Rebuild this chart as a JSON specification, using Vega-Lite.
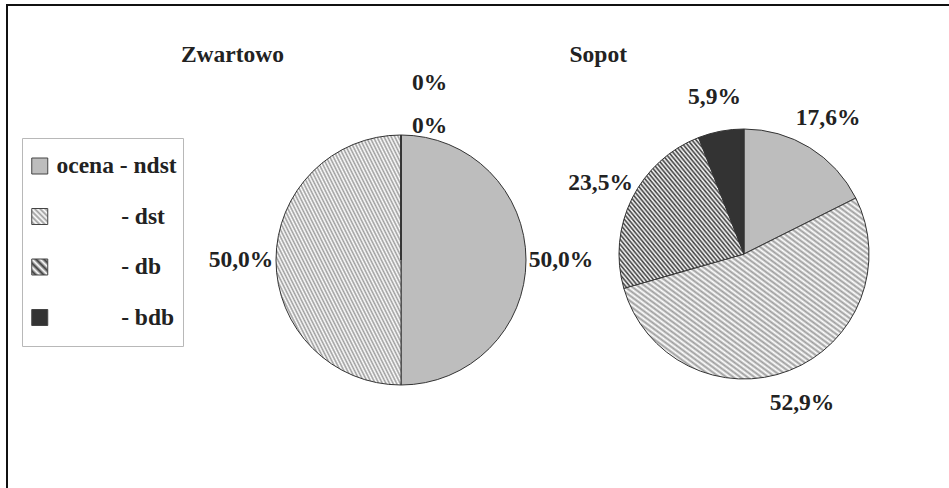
{
  "$schema": "https://vega.github.io/schema/vega-lite/v6.json",
  "width": 950,
  "height": 504,
  "autosize": {"type": "none"},
  "padding": {"left": 7, "top": 5, "right": 0, "bottom": 0},
  "background": "white",
  "params": [
    {"name": "hd", "value": "#3a3a3a"},
    {"name": "hl", "value": "#ffffff"},
    {"name": "cd", "value": "#9c9c9c"},
    {"name": "cl", "value": "#ffffff"}
  ],
  "config": {
    "view": {"stroke": "#111111", "strokeWidth": 2},
    "font": "Liberation Serif",
    "text": {"font": "Liberation Serif", "fontWeight": "bold", "fontSize": 23.5, "fill": "#222222"}
  },
  "datasets": {
    "grades": [
      {"site": "Zwartowo", "grade": "ndst", "order": 1, "value": 50.0},
      {"site": "Zwartowo", "grade": "dst", "order": 2, "value": 50.0},
      {"site": "Zwartowo", "grade": "db", "order": 3, "value": 0},
      {"site": "Zwartowo", "grade": "bdb", "order": 4, "value": 0},
      {"site": "Sopot", "grade": "ndst", "order": 1, "value": 17.6},
      {"site": "Sopot", "grade": "dst", "order": 2, "value": 52.9},
      {"site": "Sopot", "grade": "db", "order": 3, "value": 23.5},
      {"site": "Sopot", "grade": "bdb", "order": 4, "value": 5.9}
    ],
    "sites": [
      {"site": "Zwartowo"},
      {"site": "Sopot"}
    ]
  },
  "transform": [
    {"stack": "value", "groupby": ["site"], "sort": [{"field": "order", "order": "ascending"}], "offset": "normalize", "as": ["t0", "t1"]},
    {"calculate": "(datum.t0 + datum.t1) / 2", "as": "tm"},
    {"calculate": "datum.value == 0 ? '0%' : replace(format(datum.value, '.1f'), '.', ',') + '%'", "as": "lab"}
  ],
  "data": {"name": "grades"},
  "layer": [
    {
      "mark": {"type": "arc", "outerRadius": 125, "stroke": "#333333", "strokeWidth": 1},
      "encoding": {
        "theta": {"field": "t0", "type": "quantitative", "scale": {"domain": [0, 1], "nice": false}},
        "theta2": {"field": "t1"},
        "x": {"field": "site", "type": "nominal", "scale": {"type": "point", "padding": 0, "domain": ["Zwartowo", "Sopot"], "range": [394, 737]}, "axis": null},
        "y": {"field": "site", "type": "nominal", "scale": {"type": "point", "padding": 0, "domain": ["Zwartowo", "Sopot"], "range": [255, 249]}, "axis": null},
        "fill": {
          "field": "grade",
          "type": "nominal",
          "scale": {
            "domain": ["ndst", "dst", "db", "bdb"],
            "range": [
              "#bdbdbd",
              {"expr": "{gradient:'linear',x1:0,y1:1,x2:1,y2:0,stops:[{offset:0/140,color:cd},{offset:1/140,color:cl},{offset:2/140,color:cd},{offset:3/140,color:cl},{offset:4/140,color:cd},{offset:5/140,color:cl},{offset:6/140,color:cd},{offset:7/140,color:cl},{offset:8/140,color:cd},{offset:9/140,color:cl},{offset:10/140,color:cd},{offset:11/140,color:cl},{offset:12/140,color:cd},{offset:13/140,color:cl},{offset:14/140,color:cd},{offset:15/140,color:cl},{offset:16/140,color:cd},{offset:17/140,color:cl},{offset:18/140,color:cd},{offset:19/140,color:cl},{offset:20/140,color:cd},{offset:21/140,color:cl},{offset:22/140,color:cd},{offset:23/140,color:cl},{offset:24/140,color:cd},{offset:25/140,color:cl},{offset:26/140,color:cd},{offset:27/140,color:cl},{offset:28/140,color:cd},{offset:29/140,color:cl},{offset:30/140,color:cd},{offset:31/140,color:cl},{offset:32/140,color:cd},{offset:33/140,color:cl},{offset:34/140,color:cd},{offset:35/140,color:cl},{offset:36/140,color:cd},{offset:37/140,color:cl},{offset:38/140,color:cd},{offset:39/140,color:cl},{offset:40/140,color:cd},{offset:41/140,color:cl},{offset:42/140,color:cd},{offset:43/140,color:cl},{offset:44/140,color:cd},{offset:45/140,color:cl},{offset:46/140,color:cd},{offset:47/140,color:cl},{offset:48/140,color:cd},{offset:49/140,color:cl},{offset:50/140,color:cd},{offset:51/140,color:cl},{offset:52/140,color:cd},{offset:53/140,color:cl},{offset:54/140,color:cd},{offset:55/140,color:cl},{offset:56/140,color:cd},{offset:57/140,color:cl},{offset:58/140,color:cd},{offset:59/140,color:cl},{offset:60/140,color:cd},{offset:61/140,color:cl},{offset:62/140,color:cd},{offset:63/140,color:cl},{offset:64/140,color:cd},{offset:65/140,color:cl},{offset:66/140,color:cd},{offset:67/140,color:cl},{offset:68/140,color:cd},{offset:69/140,color:cl},{offset:70/140,color:cd},{offset:71/140,color:cl},{offset:72/140,color:cd},{offset:73/140,color:cl},{offset:74/140,color:cd},{offset:75/140,color:cl},{offset:76/140,color:cd},{offset:77/140,color:cl},{offset:78/140,color:cd},{offset:79/140,color:cl},{offset:80/140,color:cd},{offset:81/140,color:cl},{offset:82/140,color:cd},{offset:83/140,color:cl},{offset:84/140,color:cd},{offset:85/140,color:cl},{offset:86/140,color:cd},{offset:87/140,color:cl},{offset:88/140,color:cd},{offset:89/140,color:cl},{offset:90/140,color:cd},{offset:91/140,color:cl},{offset:92/140,color:cd},{offset:93/140,color:cl},{offset:94/140,color:cd},{offset:95/140,color:cl},{offset:96/140,color:cd},{offset:97/140,color:cl},{offset:98/140,color:cd},{offset:99/140,color:cl},{offset:100/140,color:cd},{offset:101/140,color:cl},{offset:102/140,color:cd},{offset:103/140,color:cl},{offset:104/140,color:cd},{offset:105/140,color:cl},{offset:106/140,color:cd},{offset:107/140,color:cl},{offset:108/140,color:cd},{offset:109/140,color:cl},{offset:110/140,color:cd},{offset:111/140,color:cl},{offset:112/140,color:cd},{offset:113/140,color:cl},{offset:114/140,color:cd},{offset:115/140,color:cl},{offset:116/140,color:cd},{offset:117/140,color:cl},{offset:118/140,color:cd},{offset:119/140,color:cl},{offset:120/140,color:cd},{offset:121/140,color:cl},{offset:122/140,color:cd},{offset:123/140,color:cl},{offset:124/140,color:cd},{offset:125/140,color:cl},{offset:126/140,color:cd},{offset:127/140,color:cl},{offset:128/140,color:cd},{offset:129/140,color:cl},{offset:130/140,color:cd},{offset:131/140,color:cl},{offset:132/140,color:cd},{offset:133/140,color:cl},{offset:134/140,color:cd},{offset:135/140,color:cl},{offset:136/140,color:cd},{offset:137/140,color:cl},{offset:138/140,color:cd},{offset:139/140,color:cl},{offset:140/140,color:cd}]}"},
              {"expr": "{gradient:'linear',x1:0,y1:1,x2:1,y2:0,stops:[{offset:0/120,color:hd},{offset:1/120,color:hl},{offset:2/120,color:hd},{offset:3/120,color:hl},{offset:4/120,color:hd},{offset:5/120,color:hl},{offset:6/120,color:hd},{offset:7/120,color:hl},{offset:8/120,color:hd},{offset:9/120,color:hl},{offset:10/120,color:hd},{offset:11/120,color:hl},{offset:12/120,color:hd},{offset:13/120,color:hl},{offset:14/120,color:hd},{offset:15/120,color:hl},{offset:16/120,color:hd},{offset:17/120,color:hl},{offset:18/120,color:hd},{offset:19/120,color:hl},{offset:20/120,color:hd},{offset:21/120,color:hl},{offset:22/120,color:hd},{offset:23/120,color:hl},{offset:24/120,color:hd},{offset:25/120,color:hl},{offset:26/120,color:hd},{offset:27/120,color:hl},{offset:28/120,color:hd},{offset:29/120,color:hl},{offset:30/120,color:hd},{offset:31/120,color:hl},{offset:32/120,color:hd},{offset:33/120,color:hl},{offset:34/120,color:hd},{offset:35/120,color:hl},{offset:36/120,color:hd},{offset:37/120,color:hl},{offset:38/120,color:hd},{offset:39/120,color:hl},{offset:40/120,color:hd},{offset:41/120,color:hl},{offset:42/120,color:hd},{offset:43/120,color:hl},{offset:44/120,color:hd},{offset:45/120,color:hl},{offset:46/120,color:hd},{offset:47/120,color:hl},{offset:48/120,color:hd},{offset:49/120,color:hl},{offset:50/120,color:hd},{offset:51/120,color:hl},{offset:52/120,color:hd},{offset:53/120,color:hl},{offset:54/120,color:hd},{offset:55/120,color:hl},{offset:56/120,color:hd},{offset:57/120,color:hl},{offset:58/120,color:hd},{offset:59/120,color:hl},{offset:60/120,color:hd},{offset:61/120,color:hl},{offset:62/120,color:hd},{offset:63/120,color:hl},{offset:64/120,color:hd},{offset:65/120,color:hl},{offset:66/120,color:hd},{offset:67/120,color:hl},{offset:68/120,color:hd},{offset:69/120,color:hl},{offset:70/120,color:hd},{offset:71/120,color:hl},{offset:72/120,color:hd},{offset:73/120,color:hl},{offset:74/120,color:hd},{offset:75/120,color:hl},{offset:76/120,color:hd},{offset:77/120,color:hl},{offset:78/120,color:hd},{offset:79/120,color:hl},{offset:80/120,color:hd},{offset:81/120,color:hl},{offset:82/120,color:hd},{offset:83/120,color:hl},{offset:84/120,color:hd},{offset:85/120,color:hl},{offset:86/120,color:hd},{offset:87/120,color:hl},{offset:88/120,color:hd},{offset:89/120,color:hl},{offset:90/120,color:hd},{offset:91/120,color:hl},{offset:92/120,color:hd},{offset:93/120,color:hl},{offset:94/120,color:hd},{offset:95/120,color:hl},{offset:96/120,color:hd},{offset:97/120,color:hl},{offset:98/120,color:hd},{offset:99/120,color:hl},{offset:100/120,color:hd},{offset:101/120,color:hl},{offset:102/120,color:hd},{offset:103/120,color:hl},{offset:104/120,color:hd},{offset:105/120,color:hl},{offset:106/120,color:hd},{offset:107/120,color:hl},{offset:108/120,color:hd},{offset:109/120,color:hl},{offset:110/120,color:hd},{offset:111/120,color:hl},{offset:112/120,color:hd},{offset:113/120,color:hl},{offset:114/120,color:hd},{offset:115/120,color:hl},{offset:116/120,color:hd},{offset:117/120,color:hl},{offset:118/120,color:hd},{offset:119/120,color:hl},{offset:120/120,color:hd}]}"},
              "#333333"
            ]
          },
          "legend": {
            "title": null,
            "orient": "none",
            "legendX": 15,
            "legendY": 133,
            "symbolType": "square",
            "symbolSize": 256,
            "symbolStrokeColor": "#444444",
            "symbolStrokeWidth": 1,
            "labelFont": "Liberation Serif",
            "labelFontWeight": "bold",
            "labelFontSize": 23.5,
            "labelColor": "#222222",
            "labelOffset": 5,
            "labelLimit": 400,
            "clipHeight": 44,
            "rowPadding": 6.5,
            "padding": 6,
            "strokeColor": "#b8b8b8",
            "fillColor": "#ffffff",
            "labelExpr": "datum.label == 'ndst' ? 'ocena - ndst' : '\u200b\u00a0\u00a0\u00a0\u00a0\u00a0\u00a0\u00a0\u00a0\u00a0\u00a0\u00a0- ' + datum.label"
          }
        }
      }
    },
    {
      "transform": [{"filter": "datum.value > 0"}],
      "mark": {"type": "text", "radius": 160, "align": "center", "baseline": "middle"},
      "encoding": {
        "theta": {"field": "tm", "type": "quantitative", "scale": {"domain": [0, 1], "nice": false}},
        "x": {"field": "site", "type": "nominal"},
        "y": {"field": "site", "type": "nominal"},
        "text": {"field": "lab", "type": "nominal"}
      }
    },
    {
      "transform": [{"filter": "datum.value == 0"}],
      "mark": {"type": "text", "align": "left", "baseline": "middle", "dx": 11},
      "encoding": {
        "theta": {"field": "tm", "type": "quantitative", "scale": {"domain": [0, 1], "nice": false}},
        "radius": {"field": "order", "type": "quantitative", "scale": {"type": "linear", "domain": [3, 4], "range": [134, 177], "zero": false}},
        "x": {"field": "site", "type": "nominal"},
        "y": {"field": "site", "type": "nominal"},
        "text": {"field": "lab", "type": "nominal"}
      }
    },
    {
      "data": {"name": "sites"},
      "transform": [],
      "mark": {"type": "text", "align": "right", "baseline": "middle", "dx": -117, "y": 50},
      "encoding": {
        "x": {"field": "site", "type": "nominal"},
        "text": {"field": "site", "type": "nominal"}
      }
    }
  ]
}
